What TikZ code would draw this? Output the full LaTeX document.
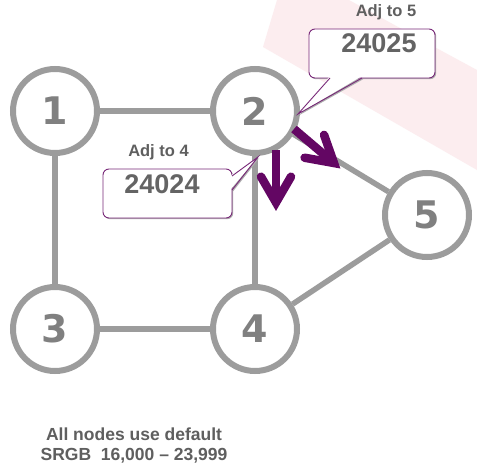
\documentclass[tikz,border=0pt]{standalone}
\usepackage{fontspec}
\setmainfont{Liberation Sans}
\newfontfamily\digitfont{DejaVu Sans}
\definecolor{edgegray}{RGB}{156,156,156}
\definecolor{numgray}{RGB}{128,128,128}
\definecolor{lblgray}{RGB}{95,95,95}
\definecolor{numdark}{RGB}{100,100,100}
\definecolor{calpurple}{RGB}{120,40,120}
\definecolor{arrpurple}{RGB}{99,6,99}
\definecolor{wmpink}{RGB}{252,237,239}
\definecolor{shadowgray}{RGB}{175,175,175}
\begin{document}
\begin{tikzpicture}[x=1pt,y=-1pt,
  vertex/.style={circle, draw=edgegray, line width=6pt, minimum size=84pt, inner sep=0pt, fill=white,
    font=\digitfont\bfseries\fontsize{38}{38}\selectfont, text=numgray},
  edge/.style={draw=edgegray, line width=5.5pt},
  calloutbox/.style={draw=calpurple, line width=0.9pt, fill=white, rounded corners=6pt},
  calloutshadow/.style={fill=shadowgray, rounded corners=6pt},
  tailline/.style={draw=calpurple, line width=0.9pt, line join=miter},
  lbl/.style={font=\bfseries\fontsize{16.5}{16.5}\selectfont, text=lblgray, anchor=base, inner sep=0pt},
  callnum/.style={font=\bfseries\fontsize{27}{27}\selectfont, text=numdark, anchor=base, inner sep=0pt},
  note/.style={font=\bfseries\fontsize{17.5}{17.5}\selectfont, text=lblgray, anchor=base, inner sep=0pt},
  adjarrow/.style={draw=arrpurple, line width=8.5pt}
]
\useasboundingbox (0,0) rectangle (477,466);
\fill[white] (0,0) rectangle (477,466);
% faint watermark band
\fill[wmpink] (263,47) -- (477,170) -- (477,70) -- (440,50) -- (349,0) -- (277,0) -- cycle;

% graph nodes
\node[vertex] (n1) at (55,111) {1};
\node[vertex] (n2) at (255,111) {2};
\node[vertex] (n3) at (55,329) {3};
\node[vertex] (n4) at (255,329) {4};
\node[vertex] (n5) at (427,215) {5};

% edges
\draw[edge] (n1) -- (n2);
\draw[edge] (n1) -- (n3);
\draw[edge] (n3) -- (n4);
\draw[edge] (n2) -- (n4);
\draw[edge] (n2) -- (n5);
\draw[edge] (n4) -- (n5);

% callout 1 (Adj to 5)
\coordinate (c1tip) at (298,114);
\coordinate (c1a) at (330,78);
\coordinate (c1b) at (362,78);
\fill[calloutshadow] (310.2,30.2) rectangle (436.2,79.2);
\fill[shadowgray] (331.2,79.2) -- (299.2,115.2) -- (363.2,79.2) -- cycle;
\draw[calloutbox] (309,29) rectangle (435,78);
\fill[white] (330,76) -- (c1tip) -- (362,76) -- cycle;
\draw[tailline] (c1a) -- (c1tip) -- (c1b);
\node[lbl] (adj5) at (386,16.7) {Adj to 5};
\node[callnum] (v5) at (379,52.7) {24025};

% callout 2 (Adj to 4)
\coordinate (c2tip) at (258,157);
\coordinate (c2a) at (232,176);
\coordinate (c2b) at (232,190);
\fill[calloutshadow] (104.2,170.2) rectangle (233.2,219.2);
\fill[shadowgray] (233.2,177.2) -- (259.2,158.2) -- (233.2,191.2) -- cycle;
\draw[calloutbox] (103,169) rectangle (232,218);
\fill[white] (230,176) -- (c2tip) -- (230,190) -- cycle;
\draw[tailline] (c2a) -- (c2tip) -- (c2b);
\node[lbl] (adj4) at (158.5,156.7) {Adj to 4};
\node[callnum] (v4) at (162,193.3) {24024};

% purple arrows
\begin{scope}[shift={(276,150)}, rotate=-90]
  \draw[adjarrow, line cap=butt] (0,0) -- (50,0);
  \draw[adjarrow, line cap=round, line join=miter] (26.7,15) -- (52.5,0) -- (26.7,-15);
\end{scope}
\begin{scope}[shift={(294,129)}, rotate=-40.4]
  \draw[adjarrow, line cap=butt] (0,0) -- (50,0);
  \draw[adjarrow, line cap=round, line join=miter] (26.7,15) -- (52.5,0) -- (26.7,-15);
\end{scope}

% note
\node[note] (note1) at (134,440) {All nodes use default};
\node[note] (note2) at (134,460) {SRGB\ \ 16,000 -- 23,999};
\end{tikzpicture}
\end{document}
